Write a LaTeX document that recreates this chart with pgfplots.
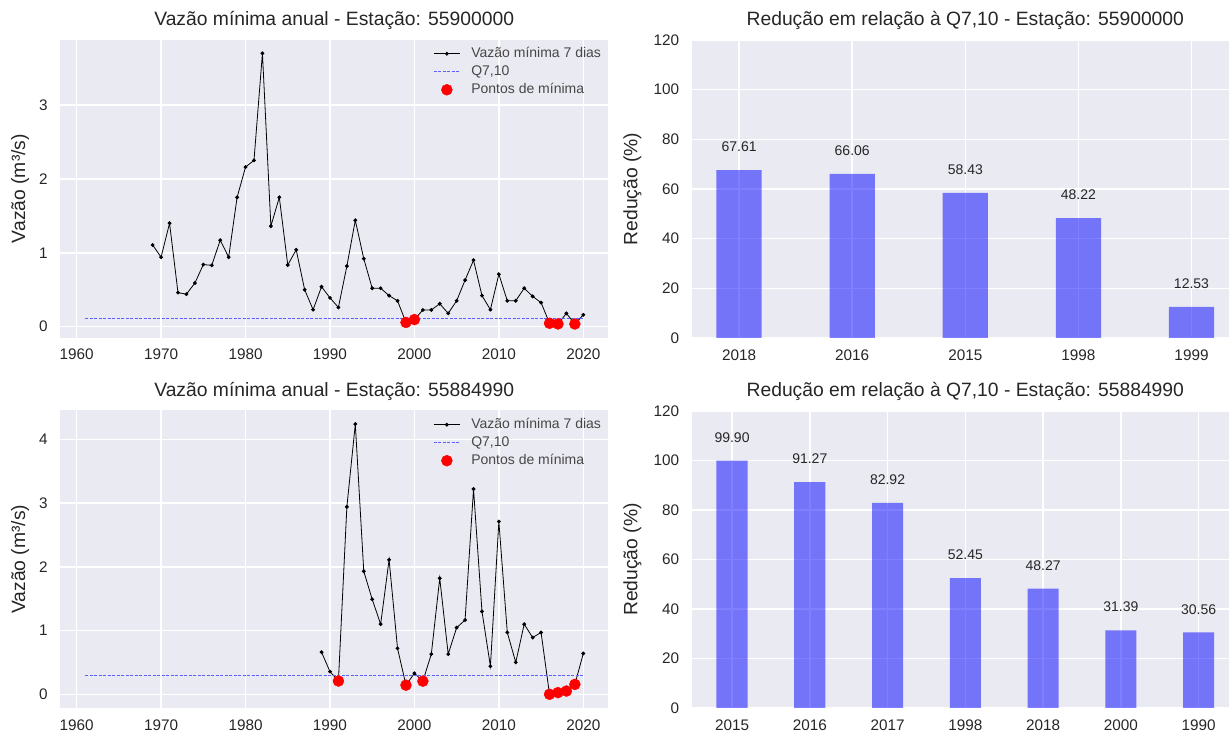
\documentclass[border=0pt]{standalone}
\usepackage{fontspec}
\setmainfont{Liberation Sans}
\usepackage{pgfplots}
\pgfplotsset{compat=1.18}

\definecolor{sbbg}{HTML}{EAEAF2}
\definecolor{sbtext}{HTML}{262626}
\definecolor{qcol}{RGB}{95,95,255}

\pgfplotsset{
  sbase/.style={
    scale only axis, width=548pt, height=298pt,
    axis background/.style={fill=sbbg},
    axis line style={draw=none},
    major tick length=0pt,
    grid=major, grid style={white, line width=1.5pt},
    /pgf/number format/assume math mode=true,
    /pgf/number format/1000 sep={},
    tick label style={font=\fontsize{15.3}{18}\selectfont, text=sbtext},
    xticklabel style={yshift=-8pt},
    yticklabel style={xshift=-9pt},
    title style={font=\fontsize{19.3}{23}\selectfont, text=sbtext,
                 at={(0.5,1)}, anchor=base, yshift=8pt},
  },
  lineax/.style={sbase,
    xmin=1958.05, xmax=2022.95, xtick={1960,1970,...,2020},
    every axis y label/.style={at={(axis description cs:-0.073,0.5)},
      rotate=90, anchor=center, font=\fontsize{19.3}{23}\selectfont, text=sbtext},
    ylabel={Vazão (m³/s)},
    legend style={draw=none, fill=none, at={(1,1)}, anchor=north east,
      font=\fontsize{14}{16}\selectfont, text=sbtext!85, xshift=-2pt, yshift=-3pt,
      nodes={text height=9.5pt, text depth=2.5pt, inner ysep=3pt},
      /tikz/every odd column/.append style={column sep=9pt}},
    legend cell align=left,
  },
  barax/.style={sbase, width=547.4pt,
    ymin=0, ymax=120, ytick={0,20,...,120},
    every axis y label/.style={at={(axis description cs:-0.108,0.5)},
      rotate=90, anchor=center, font=\fontsize{19.3}{23}\selectfont, text=sbtext},
    ylabel={Redução (\%)},
  },
  serie/.style={black, line width=0.8pt, mark=*, mark size=1.5pt,
    legend image code/.code={\draw[mark repeat=2, mark phase=2, ##1]
      plot coordinates {(0pt,0pt) (13pt,0pt) (26pt,0pt)};}},
  qline/.style={qcol, line width=0.9pt, dash pattern=on 3pt off 1.5pt,
    legend image code/.code={\draw[##1] (0pt,0pt) -- (26pt,0pt);}},
  minpts/.style={only marks, mark=*, mark size=5.5pt, red,
    legend image code/.code={\draw[##1] plot coordinates {(13pt,0pt)};}},
  bars/.style={ybar, bar width=0.4, draw=none, fill=blue, fill opacity=0.5,
    nodes near coords={\pgfmathprintnumber[fixed, fixed zerofill, precision=2]{\pgfplotspointmeta}},
    every node near coord/.append style={anchor=south, inner sep=0pt, yshift=18pt,
      text=sbtext, text opacity=1, font=\fontsize{14}{16}\selectfont}},
}

\begin{document}
\begin{tikzpicture}
\useasboundingbox (0,0) rectangle (1229pt,733pt);

% Estacao 55900000 - vazao minima
\begin{axis}[lineax, at={(60.2pt,395.4pt)}, anchor=south west,
  ymin=-0.148, ymax=3.885, ytick={0,1,2,3},
  title={Vazão mínima anual - Estação: 55900000}]
\addplot[serie] coordinates {
  (1969,1.105) (1970,0.94) (1971,1.40) (1972,0.46) (1973,0.44) (1974,0.59)
  (1975,0.84) (1976,0.83) (1977,1.17) (1978,0.94) (1979,1.75) (1980,2.16)
  (1981,2.25) (1982,3.70) (1983,1.36) (1984,1.75) (1985,0.835) (1986,1.04)
  (1987,0.50) (1988,0.23) (1989,0.54) (1990,0.39) (1991,0.26) (1992,0.82)
  (1993,1.44) (1994,0.92) (1995,0.52) (1996,0.52) (1997,0.42) (1998,0.35)
  (1999,0.057) (2000,0.096) (2001,0.226) (2002,0.226) (2003,0.31) (2004,0.18)
  (2005,0.35) (2006,0.63) (2007,0.90) (2008,0.42) (2009,0.23) (2010,0.71)
  (2011,0.35) (2012,0.35) (2013,0.52) (2014,0.41) (2015,0.325) (2016,0.046)
  (2017,0.037) (2018,0.18) (2019,0.036) (2020,0.16)};
\addlegendentry{Vazão mínima 7 dias}
\addplot[qline] coordinates {(1961,0.11) (2020,0.11)};
\addlegendentry{Q7,10}
\addplot[minpts] coordinates {(1999,0.057) (2000,0.096) (2016,0.046) (2017,0.037) (2019,0.036)};
\addlegendentry{Pontos de mínima}
\end{axis}

% Estacao 55884990 - vazao minima
\begin{axis}[lineax, at={(60.2pt,25.2pt)}, anchor=south west, height=297.3pt,
  ymin=-0.212, ymax=4.452, ytick={0,1,2,3,4},
  title={Vazão mínima anual - Estação: 55884990}]
\addplot[serie] coordinates {
  (1989,0.66) (1990,0.355) (1991,0.208) (1992,2.94) (1993,4.24) (1994,1.93)
  (1995,1.49) (1996,1.10) (1997,2.11) (1998,0.72) (1999,0.143) (2000,0.33)
  (2001,0.206) (2002,0.63) (2003,1.82) (2004,0.63) (2005,1.045) (2006,1.165)
  (2007,3.22) (2008,1.30) (2009,0.44) (2010,2.71) (2011,0.97) (2012,0.50)
  (2013,1.10) (2014,0.89) (2015,0.97) (2016,0.0003) (2017,0.026) (2018,0.051)
  (2019,0.155) (2020,0.64)};
\addlegendentry{Vazão mínima 7 dias}
\addplot[qline] coordinates {(1961,0.30) (2020,0.30)};
\addlegendentry{Q7,10}
\addplot[minpts] coordinates {(1991,0.208) (1999,0.143) (2001,0.206) (2016,0.0003)
  (2017,0.026) (2018,0.051) (2019,0.155)};
\addlegendentry{Pontos de mínima}
\end{axis}

% Reducao 55900000
\begin{axis}[barax, at={(691.6pt,395pt)}, anchor=south west,
  xmin=-0.42, xmax=4.42, xtick={0,...,4},
  xticklabels={2018,2016,2015,1998,1999},
  title={Redução em relação à Q7,10 - Estação: 55900000}]
\addplot[bars] coordinates {(0,67.61) (1,66.06) (2,58.43) (3,48.22) (4,12.53)};
\end{axis}

% Reducao 55884990
\begin{axis}[barax, at={(691.6pt,25pt)}, anchor=south west, height=297pt,
  xmin=-0.52, xmax=6.52, xtick={0,...,6},
  xticklabels={2015,2016,2017,1998,2018,2000,1990},
  title={Redução em relação à Q7,10 - Estação: 55884990}]
\addplot[bars] coordinates {(0,99.90) (1,91.27) (2,82.92) (3,52.45) (4,48.27)
  (5,31.39) (6,30.56)};
\end{axis}
\end{tikzpicture}
\end{document}
